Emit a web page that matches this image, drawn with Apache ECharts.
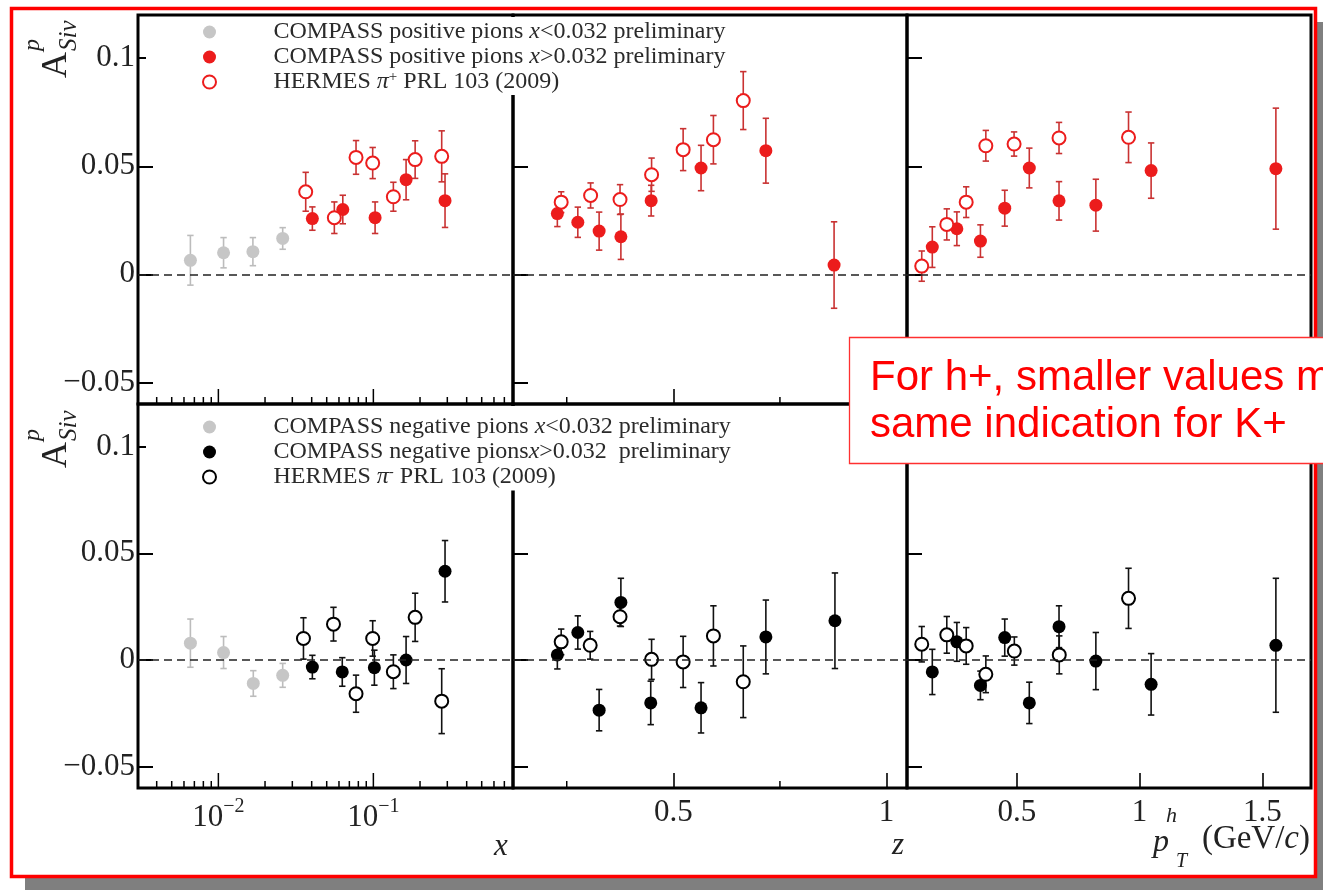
<!DOCTYPE html>
<html><head><meta charset="utf-8">
<script src="https://cdn.jsdelivr.net/npm/echarts@6/dist/echarts.min.js"></script>
<style>html,body{margin:0;padding:0;background:#fff;overflow:hidden}#c{width:1323px;height:890px}</style>
</head><body><div id="c"></div>
<script>
// ---------------- data ----------------
const legendTop = ['COMPASS positive pions x<0.032 preliminary', 'COMPASS positive pions x>0.032 preliminary', 'HERMES π+ PRL 103 (2009)'];
const legendBottom = ['COMPASS negative pions x<0.032 preliminary', 'COMPASS negative pionsx>0.032  preliminary', 'HERMES π- PRL 103 (2009)'];

const yRange = [-0.06, 0.12];
const yTicks = [-0.05, 0, 0.05, 0.1];
const yTickLabels = ['\u22120.05', '0', '0.05', '0.1'];
const xLogRange = [0.00303, 0.796];
const xLogMajor = [0.01, 0.1];
const xLogMinor = [0.004, 0.005, 0.006, 0.007, 0.008, 0.009, 0.02, 0.03, 0.04, 0.05, 0.06, 0.07, 0.08, 0.09, 0.2, 0.3, 0.4, 0.5, 0.6, 0.7];
const zRange = [0.124, 1.048];
const zMajor = [0.5, 1];
const zMinor = [0.25, 0.75];
const zTickLabels = ['0.5', '1'];
const pRange = [0.053, 1.698];
const pMajor = [0.5, 1, 1.5];
const pTickLabels = ['0.5', '1', '1.5'];

// positive pions vs x
const grayPosX = [0.0066, 0.0108, 0.0167, 0.026];
const grayPosY = [0.0065, 0.0100, 0.0105, 0.0166];
const grayPosE = [0.0115, 0.0070, 0.0065, 0.0050];
const compPosX = [0.0404, 0.0635, 0.1026, 0.1626, 0.290];
const compPosXY = [0.0258, 0.0300, 0.0262, 0.0438, 0.0341];
const compPosXE = [0.0054, 0.0066, 0.0073, 0.0093, 0.0124];
const hermPosX = [0.0366, 0.056, 0.0773, 0.099, 0.1346, 0.186, 0.276];
const hermPosXY = [0.0382, 0.0262, 0.0541, 0.0515, 0.0359, 0.0531, 0.0546];
const hermPosXE = [0.0090, 0.0073, 0.0078, 0.0072, 0.0067, 0.0087, 0.0118];
// positive pions vs z
const compPosZ = [0.228, 0.276, 0.326, 0.377, 0.448, 0.565, 0.717, 0.877];
const compPosZY = [0.0281, 0.0241, 0.0200, 0.0174, 0.0341, 0.0492, 0.0572, 0.0043];
const compPosZE = [0.0060, 0.0070, 0.0088, 0.0105, 0.0071, 0.0105, 0.0150, 0.0200];
const hermPosZ = [0.237, 0.306, 0.375, 0.449, 0.523, 0.594, 0.664];
const hermPosZY = [0.0334, 0.0365, 0.0346, 0.0461, 0.0577, 0.0623, 0.0804];
const hermPosZE = [0.0048, 0.0058, 0.0069, 0.0077, 0.0097, 0.0112, 0.0134];
// positive pions vs pT
const compPosP = [0.156, 0.256, 0.352, 0.451, 0.551, 0.672, 0.822, 1.047, 1.555];
const compPosPY = [0.0126, 0.0211, 0.0154, 0.0306, 0.0492, 0.0340, 0.0320, 0.0480, 0.0489];
const compPosPE = [0.0094, 0.0078, 0.0075, 0.0083, 0.0092, 0.0089, 0.0120, 0.0128, 0.0280];
const hermPosP = [0.113, 0.215, 0.294, 0.374, 0.489, 0.672, 0.955];
const hermPosPY = [0.0038, 0.0231, 0.0334, 0.0595, 0.0603, 0.0631, 0.0634];
const hermPosPE = [0.0070, 0.0072, 0.0071, 0.0071, 0.0056, 0.0072, 0.0117];

// negative pions vs x
const grayNegX = [0.0066, 0.0108, 0.0168, 0.026];
const grayNegY = [0.0079, 0.0035, -0.0110, -0.0072];
const grayNegE = [0.0113, 0.0075, 0.0060, 0.0056];
const compNegX = [0.0404, 0.063, 0.1015, 0.1626, 0.290];
const compNegXY = [-0.0033, -0.0056, -0.0036, 0.0000, 0.0416];
const compNegXE = [0.0055, 0.0067, 0.0082, 0.0110, 0.0144];
const hermNegX = [0.0354, 0.0553, 0.0773, 0.099, 0.1346, 0.186, 0.276];
const hermNegXY = [0.0101, 0.0168, -0.0158, 0.0101, -0.0055, 0.0200, -0.0193];
const hermNegXE = [0.0097, 0.0079, 0.0087, 0.0083, 0.0079, 0.0113, 0.0152];
// negative pions vs z
const compNegZ = [0.228, 0.276, 0.326, 0.377, 0.447, 0.565, 0.717, 0.879];
const compNegZY = [0.0024, 0.0129, -0.0235, 0.0270, -0.0201, -0.0224, 0.0108, 0.0184];
const compNegZE = [0.0066, 0.0078, 0.0097, 0.0113, 0.0102, 0.0118, 0.0173, 0.0224];
const hermNegZ = [0.237, 0.305, 0.375, 0.449, 0.523, 0.594, 0.664];
const hermNegZY = [0.0085, 0.0069, 0.0203, 0.0003, -0.0009, 0.0113, -0.0102];
const hermNegZE = [0.0060, 0.0065, 0.0044, 0.0094, 0.0120, 0.0141, 0.0168];
// negative pions vs pT
const compNegP = [0.156, 0.256, 0.352, 0.451, 0.551, 0.672, 0.822, 1.047, 1.555];
const compNegPY = [-0.0056, 0.0085, -0.0119, 0.0105, -0.0201, 0.0156, -0.0005, -0.0114, 0.0069];
const compNegPE = [0.0106, 0.0091, 0.0067, 0.0087, 0.0097, 0.0098, 0.0134, 0.0144, 0.0314];
const hermNegP = [0.113, 0.215, 0.294, 0.374, 0.490, 0.673, 0.955];
const hermNegPY = [0.0074, 0.0118, 0.0066, -0.0067, 0.0042, 0.0024, 0.0289];
const hermNegPE = [0.0083, 0.0086, 0.0086, 0.0086, 0.0066, 0.0089, 0.0141];

// ---------------- styling ----------------
const SERIF = '"Liberation Serif","Times New Roman",serif';
const SANS = '"Liberation Sans",Arial,sans-serif';
const TXT = '#222';
const RED = '#ec1c1c', RED_ERR = '#c93232';
const GRAY = '#c6c6c6', GRAY_ERR = '#bcbcbc';
const BLACK = '#000', BLACK_ERR = '#111';

const gridBoxes = [
  {left: 138, top: 15, width: 375, height: 389},
  {left: 513, top: 15, width: 394, height: 389},
  {left: 907, top: 15, width: 404, height: 389},
  {left: 138, top: 404, width: 375, height: 384},
  {left: 513, top: 404, width: 394, height: 384},
  {left: 907, top: 404, width: 404, height: 384}
];

function idxOf(arr, v) { return arr.findIndex(t => Math.abs(t - v) < 1e-9); }

const xAxes = [], yAxes = [];
gridBoxes.forEach((g, gi) => {
  const col = gi % 3, bottom = gi >= 3;
  const base = {gridIndex: gi, position: 'bottom', axisLine: {show: false, onZero: false}, axisTick: {show: false}, splitLine: {show: false}};
  let ax;
  if (col === 0) {
    ax = Object.assign(base, {type: 'log', logBase: 10, min: xLogRange[0], max: xLogRange[1],
      axisLabel: {show: bottom, showMinLabel: false, showMaxLabel: false, margin: 9, lineHeight: 42,
        fontFamily: SERIF, fontSize: 31, color: TXT,
        formatter: v => { const n = Math.round(Math.log10(v)); if (idxOf(xLogMajor, Math.pow(10, n)) < 0 || Math.abs(Math.pow(10, n) - v) > 1e-9) return ''; return '{b|10}{s|\u2212' + Math.abs(n) + '}'; },
        rich: {b: {fontFamily: SERIF, fontSize: 31, lineHeight: 42, color: TXT},
               s: {fontFamily: SERIF, fontSize: 20, lineHeight: 20, verticalAlign: 'top', color: TXT}}}});
  } else {
    const major = col === 1 ? zMajor : pMajor, labels = col === 1 ? zTickLabels : pTickLabels;
    const rng = col === 1 ? zRange : pRange;
    ax = Object.assign(base, {type: 'value', min: rng[0], max: rng[1],
      axisTick: {show: true, inside: true, length: 15, customValues: major, lineStyle: {color: '#000', width: 1.6}},
      axisLabel: {show: bottom, customValues: major, margin: 9, fontFamily: SERIF, fontSize: 31, color: TXT,
        formatter: v => labels[idxOf(major, v)]}});
  }
  xAxes.push(ax);
  yAxes.push({gridIndex: gi, type: 'value', min: yRange[0], max: yRange[1],
    axisLine: {show: false, onZero: false}, splitLine: {show: false},
    axisTick: {show: true, inside: true, length: 15, customValues: yTicks, lineStyle: {color: '#000', width: 2}},
    axisLabel: {show: col === 0, customValues: yTicks, margin: 3, fontFamily: SERIF, fontSize: 31, color: TXT,
      formatter: v => yTickLabels[idxOf(yTicks, v)]}});
});

const series = [];
function tickSeries(gi, vals, len) {
  series.push({type: 'custom', xAxisIndex: gi, yAxisIndex: gi, z: 1, silent: true, clip: false,
    data: vals.map(v => [v, yRange[0]]), encode: {x: 0, y: 1},
    renderItem: (p, api) => {
      const c = api.coord([api.value(0), api.value(1)]);
      return {type: 'line', shape: {x1: c[0], y1: c[1] - 1, x2: c[0], y2: c[1] - len}, style: {stroke: '#000', lineWidth: 1.5}};
    }});
}
function addSet(gi, name, xs, ys, es, color, errColor, open, zero) {
  series.push({type: 'custom', xAxisIndex: gi, yAxisIndex: gi, z: 2, silent: true, clip: false,
    data: xs.map((x, i) => [x, ys[i], es[i]]), encode: {x: 0, y: 1},
    renderItem: (p, api) => {
      const x = api.value(0), y = api.value(1), e = api.value(2);
      const hi = api.coord([x, y + e]), lo = api.coord([x, y - e]);
      const cw = 3.2, st = {stroke: errColor, lineWidth: 1.6};
      return {type: 'group', children: [
        {type: 'line', shape: {x1: hi[0], y1: hi[1], x2: lo[0], y2: lo[1]}, style: st},
        {type: 'line', shape: {x1: hi[0] - cw, y1: hi[1], x2: hi[0] + cw, y2: hi[1]}, style: st},
        {type: 'line', shape: {x1: lo[0] - cw, y1: lo[1], x2: lo[0] + cw, y2: lo[1]}, style: st}
      ]};
    }});
  const s = {type: 'scatter', name: name, xAxisIndex: gi, yAxisIndex: gi, z: 3, symbol: 'circle', symbolSize: 13,
    data: xs.map((x, i) => [x, ys[i]]), emphasis: {disabled: true},
    itemStyle: open ? {color: '#fff', borderColor: color, borderWidth: 2, opacity: 1} : {color: color, borderWidth: 0, opacity: 1}};
  if (zero) {
    s.markLine = {silent: true, symbol: ['none', 'none'], label: {show: false}, animation: false,
      lineStyle: {color: '#222', type: [8, 5], width: 1.5, opacity: 1}, data: [{yAxis: 0}]};
  }
  series.push(s);
}

[0, 3].forEach(gi => { tickSeries(gi, xLogMinor, 7); tickSeries(gi, xLogMajor, 15); });
[1, 4].forEach(gi => tickSeries(gi, zMinor, 7));

// top row
addSet(0, legendTop[0], grayPosX, grayPosY, grayPosE, GRAY, GRAY_ERR, false, true);
addSet(0, legendTop[1], compPosX, compPosXY, compPosXE, RED, RED_ERR, false, false);
addSet(0, legendTop[2], hermPosX, hermPosXY, hermPosXE, RED, RED_ERR, true, false);
addSet(1, legendTop[1], compPosZ, compPosZY, compPosZE, RED, RED_ERR, false, true);
addSet(1, legendTop[2], hermPosZ, hermPosZY, hermPosZE, RED, RED_ERR, true, false);
addSet(2, legendTop[1], compPosP, compPosPY, compPosPE, RED, RED_ERR, false, true);
addSet(2, legendTop[2], hermPosP, hermPosPY, hermPosPE, RED, RED_ERR, true, false);
// bottom row
addSet(3, legendBottom[0], grayNegX, grayNegY, grayNegE, GRAY, GRAY_ERR, false, true);
addSet(3, legendBottom[1], compNegX, compNegXY, compNegXE, BLACK, BLACK_ERR, false, false);
addSet(3, legendBottom[2], hermNegX, hermNegXY, hermNegXE, BLACK, BLACK_ERR, true, false);
addSet(4, legendBottom[1], compNegZ, compNegZY, compNegZE, BLACK, BLACK_ERR, false, true);
addSet(4, legendBottom[2], hermNegZ, hermNegZY, hermNegZE, BLACK, BLACK_ERR, true, false);
addSet(5, legendBottom[1], compNegP, compNegPY, compNegPE, BLACK, BLACK_ERR, false, true);
addSet(5, legendBottom[2], hermNegP, hermNegPY, hermNegPE, BLACK, BLACK_ERR, true, false);

const legRich = {
  i: {fontFamily: SERIF, fontStyle: 'italic', fontSize: 24, lineHeight: 25, color: '#2a2a2a'},
  s: {fontFamily: SERIF, fontSize: 15, lineHeight: 15, verticalAlign: 'top', color: '#2a2a2a'}
};
function legFmt(name) {
  return name.replace(/x([<>])/, '{i|x}$1').replace(/π([+\-])/, '{i|π}{s|$1}');
}
function legendCfg(data, top, pad) {
  return {data: data, orient: 'vertical', left: 146, top: top, padding: pad, itemGap: 0,
    itemWidth: 118, itemHeight: 13, backgroundColor: '#fff', selectedMode: false, symbolKeepAspect: true,
    formatter: legFmt, itemStyle: {opacity: 1},
    textStyle: {fontFamily: SERIF, fontSize: 24, lineHeight: 25, color: '#2a2a2a', rich: legRich}};
}

function yTitle(x0, y0) {
  return {type: 'group', x: x0, y: y0, rotation: Math.PI / 2, children: [
    {type: 'text', x: 0, y: 8, style: {text: 'A', font: '36px ' + SERIF, fill: TXT, textAlign: 'left', align: 'left', textVerticalAlign: 'bottom', verticalAlign: 'bottom'}},
    {type: 'text', x: 27, y: -22, style: {text: 'p', font: 'italic 24px ' + SERIF, fill: TXT, textAlign: 'left', align: 'left', textVerticalAlign: 'bottom', verticalAlign: 'bottom'}},
    {type: 'text', x: 27, y: 15, style: {text: 'Siv', font: 'italic 25px ' + SERIF, fill: TXT, textAlign: 'left', align: 'left', textVerticalAlign: 'bottom', verticalAlign: 'bottom'}}
  ]};
}
function txt(x, y, text, font, align, valign, fill) {
  return {type: 'text', x: x, y: y, z: 50, style: {text: text, font: font, fill: fill || TXT,
    textAlign: align, align: align, textVerticalAlign: valign, verticalAlign: valign}};
}

const graphic = [
  {type: 'rect', z: -20, shape: {x: 25, y: 22, width: 1310, height: 880}, style: {fill: '#7f7f7f'}},
  {type: 'rect', z: -19, shape: {x: 11.5, y: 8.5, width: 1304, height: 868}, style: {fill: '#fff', stroke: '#ff0000', lineWidth: 3.5}},
  yTitle(67, 78),
  yTitle(67, 468),
  txt(501, 847, 'x', 'italic 31px ' + SERIF, 'center', 'middle'),
  txt(898, 846, 'z', 'italic 31px ' + SERIF, 'center', 'middle'),
  txt(1153, 843, 'p', 'italic 32px ' + SERIF, 'left', 'middle'),
  txt(1166, 816, 'h', 'italic 22px ' + SERIF, 'left', 'middle'),
  txt(1176, 862, 'T', 'italic 20px ' + SERIF, 'left', 'middle'),
  {type: 'text', x: 1310, y: 839, z: 50, style: {text: '(GeV/{i|c})', font: '33px ' + SERIF, fill: TXT,
    textAlign: 'right', align: 'right', textVerticalAlign: 'middle', verticalAlign: 'middle',
    rich: {i: {fontStyle: 'italic', fontSize: 33, fontFamily: SERIF, fill: TXT, color: TXT}}}},
  {type: 'rect', z: 100, shape: {x: 849.5, y: 337.5, width: 520, height: 126}, style: {fill: '#fff', stroke: '#ff3030', lineWidth: 1.3}},
  {type: 'text', z: 101, x: 870, y: 399, style: {text: 'For h+, smaller values m', font: '42px ' + SANS, fill: '#ff0000', textAlign: 'left', align: 'left', textVerticalAlign: 'bottom', verticalAlign: 'bottom'}},
  {type: 'text', z: 101, x: 870, y: 446, style: {text: 'same indication for K+', font: '42px ' + SANS, fill: '#ff0000', textAlign: 'left', align: 'left', textVerticalAlign: 'bottom', verticalAlign: 'bottom'}}
];

const chart = echarts.init(document.getElementById('c'), null, {renderer: 'canvas'});
chart.setOption({
  animation: false,
  backgroundColor: '#fff',
  grid: gridBoxes.map(g => Object.assign({show: true, borderColor: '#000', borderWidth: 3, backgroundColor: 'transparent', containLabel: false}, g)),
  xAxis: xAxes,
  yAxis: yAxes,
  legend: [legendCfg(legendTop, 17, [2.5, 14, 0.5, 56]), legendCfg(legendBottom, 406, [8.5, 14, 1, 56])],
  series: series,
  graphic: graphic
});
</script></body></html>
